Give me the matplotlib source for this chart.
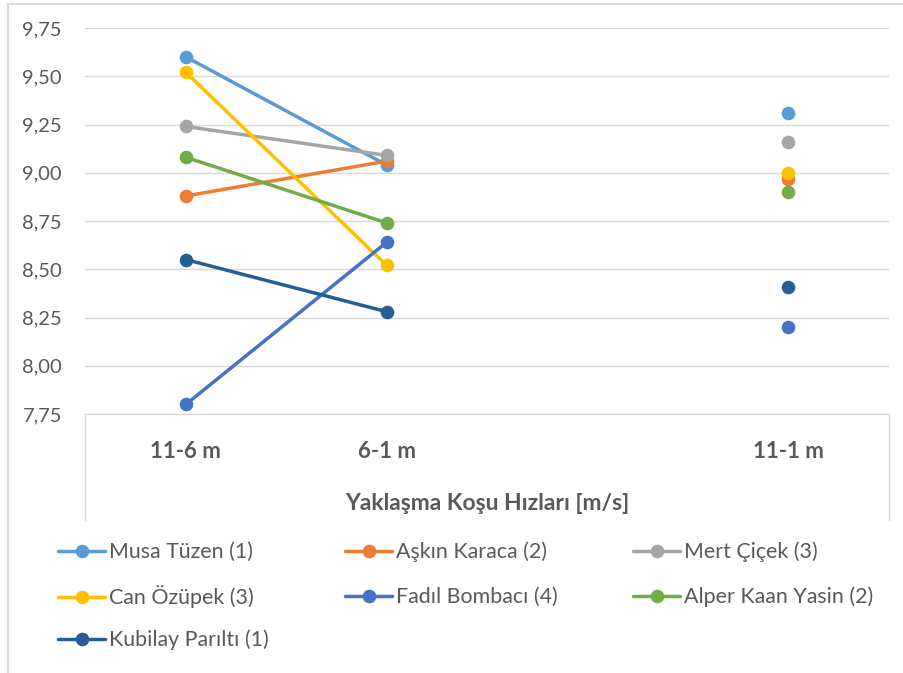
import numpy as np
import matplotlib
matplotlib.use("Agg")
import matplotlib.pyplot as plt
from matplotlib.lines import Line2D

plt.rcParams['font.family'] = ['Lato', 'DejaVu Sans']

categories = ["11-6 m", "6-1 m", "", "11-1 m"]
series_names = ["Musa Tüzen (1)", "Aşkın Karaca (2)", "Mert Çiçek (3)",
                "Can Özüpek (3)", "Fadıl Bombacı (4)", "Alper Kaan Yasin (2)",
                "Kubilay Parıltı (1)"]
musa = [9.60, 9.04, np.nan, 9.31]
askin = [8.88, 9.06, np.nan, 8.97]
mert = [9.24, 9.09, np.nan, 9.16]
can = [9.52, 8.52, np.nan, 9.00]
fadil = [7.80, 8.64, np.nan, 8.20]
alper = [9.08, 8.74, np.nan, 8.90]
kubilay = [8.55, 8.28, np.nan, 8.41]
series_values = [musa, askin, mert, can, fadil, alper, kubilay]
colors = ["#5B9BD5", "#ED7D31", "#A5A5A5", "#FFC000", "#4472C4", "#70AD47", "#255E91"]
y_ticks = [7.75, 8.00, 8.25, 8.50, 8.75, 9.00, 9.25, 9.50, 9.75]
y_tick_labels = ["7,75", "8,00", "8,25", "8,50", "8,75", "9,00", "9,25", "9,50", "9,75"]
x_title = "Yaklaşma Koşu Hızları [m/s]"

W, H = 904, 673
fig = plt.figure(figsize=(W / 100, H / 100), dpi=100)
ax = fig.add_axes([85.5 / W, 1 - 414 / H, (888.7 - 85.5) / W, (414 - 28) / H])

x = np.arange(len(categories))
handles = []
for name, vals, c in zip(series_names, series_values, colors):
    h, = ax.plot(x, vals, color=c, lw=2.5, marker='o', ms=9.8,
                 markeredgewidth=0, label=name, solid_capstyle='round', zorder=3)
    handles.append(h)

ax.set_xlim(-0.5, len(categories) - 0.5)
ax.set_ylim(7.75, 9.75)
ax.set_yticks(y_ticks, y_tick_labels)
ax.set_xticks(x, categories)
ax.grid(axis='y', color='#D9D9D9', lw=1.0, zorder=0)
ax.grid(axis='x', visible=False)
for s in ['left', 'right', 'top']:
    ax.spines[s].set_visible(False)
ax.spines['bottom'].set_color('#D9D9D9')
ax.spines['bottom'].set_linewidth(1.0)
ax.tick_params(axis='y', length=0, pad=17, labelsize=14.5, labelcolor='#595959')
ax.tick_params(axis='x', length=0, pad=19.5, labelsize=16, labelcolor='#595959')
for t in ax.get_xticklabels():
    t.set_fontweight('bold')

# category box lines below the axis
for xa in (0, 1):
    ax.plot([xa, xa], [0, -0.275], transform=ax.transAxes, clip_on=False,
            color='#D9D9D9', lw=1.0)

fig.text((85.5 + 888.7) / 2 / W, 1 - 504 / H, x_title, ha='center', va='center',
         fontsize=16.5, fontweight='bold', color='#595959')

# legend: grid of entries, row-major order like the reference
ncol = 3
col_x = [58, 345, 633]
row_y = [552, 597, 640]
for i, (h, name) in enumerate(zip(handles, series_names)):
    r, c = divmod(i, ncol)
    fig.legend([h], [name], loc='center left',
               bbox_to_anchor=(col_x[c] / W, 1 - row_y[r] / H),
               frameon=False, fontsize=15.4, labelcolor='#595959',
               handlelength=2.2, handletextpad=0.2,
               borderaxespad=0, borderpad=0)

# outer chart border
fig.add_artist(Line2D([7.5 / W, 7.5 / W], [0, 1 - 4 / H], color='#D9D9D9', lw=1.5))
fig.add_artist(Line2D([7.5 / W, 1], [1 - 4 / H, 1 - 4 / H], color='#D9D9D9', lw=1.5))

fig.savefig("out.png", dpi=100)
